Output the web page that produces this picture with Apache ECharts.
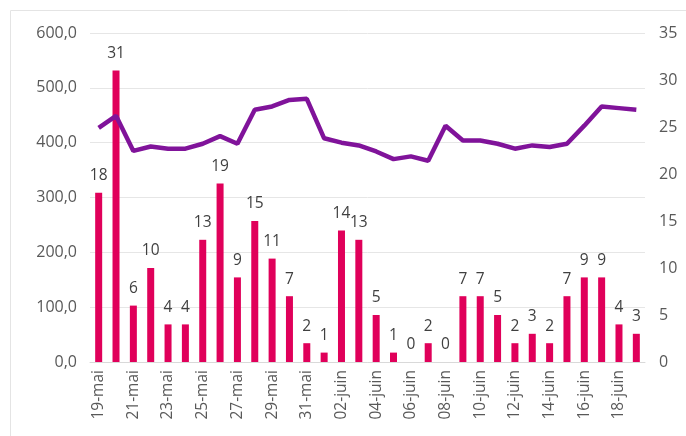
<!DOCTYPE html>
<html>
<head>
<meta charset="utf-8">
<script src="https://cdn.jsdelivr.net/npm/echarts@6/dist/echarts.min.js"></script>
<style>
  html, body { margin: 0; padding: 0; background: #fff; }
  #chart { width: 686px; height: 436px; }
</style>
</head>
<body>
<div id="chart"></div>
<script>
// categories: 19 May to 19 June
const days = [
    '19-mai', '20-mai', '21-mai', '22-mai', '23-mai', '24-mai', '25-mai', '26-mai',
    '27-mai', '28-mai', '29-mai', '30-mai', '31-mai', '01-juin', '02-juin', '03-juin',
    '04-juin', '05-juin', '06-juin', '07-juin', '08-juin', '09-juin', '10-juin', '11-juin',
    '12-juin', '13-juin', '14-juin', '15-juin', '16-juin', '17-juin', '18-juin', '19-juin'
];
// bars, right axis
const counts = [18, 31, 6, 10, 4, 4, 13, 19, 9, 15, 11, 7, 2, 1, 14, 13,
    5, 1, 0, 2, 0, 7, 7, 5, 2, 3, 2, 7, 9, 9, 4, 3];
// line, left axis
const amounts = [427, 449, 385, 393, 389, 389, 398, 412, 398, 460, 466, 478, 480, 408, 400, 395,
    384, 370, 375, 367, 431, 404, 404, 398, 389, 395, 392, 398, 431, 466, 463, 460];

const leftTicks = { min: 0, max: 600, interval: 100 };
const rightTicks = { min: 0, max: 35, interval: 5 };

const $chartDom = document.getElementById('chart');
const chart = echarts.init($chartDom);
const textColor = '#595959';
const fontFamily = '"Open Sans", "Noto Sans", sans-serif';

chart.setOption({
    animation: false,
    textStyle: { fontFamily: fontFamily },
    graphic: [{
        type: 'rect',
        shape: { x: 10.5, y: 10.5, width: 700, height: 440 },
        style: { fill: 'none', stroke: '#e4e4e4', lineWidth: 1 },
        silent: true
    }],
    grid: { left: 90, right: 41, top: 33, bottom: 74 },
    xAxis: {
        type: 'category',
        data: days,
        boundaryGap: true,
        axisLine: { show: true, lineStyle: { color: '#d9d9d9' } },
        axisTick: { show: false },
        axisLabel: {
            interval: 1,
            rotate: 90,
            color: textColor,
            fontSize: 15.5,
            margin: 8
        }
    },
    yAxis: [{
        type: 'value',
        min: leftTicks.min,
        max: leftTicks.max,
        interval: leftTicks.interval,
        axisLine: { show: false },
        axisTick: { show: false },
        splitLine: { lineStyle: { color: '#e6e6e6' } },
        axisLabel: {
            color: textColor,
            fontSize: 16,
            margin: 13,
            formatter: v => v.toFixed(1).replace('.', ',')
        }
    }, {
        type: 'value',
        min: rightTicks.min,
        max: rightTicks.max,
        interval: rightTicks.interval,
        axisLine: { show: false },
        axisTick: { show: false },
        splitLine: { show: false },
        axisLabel: { color: textColor, fontSize: 16, margin: 14 }
    }],
    series: [{
        name: 'Nombre',
        type: 'bar',
        yAxisIndex: 1,
        data: counts,
        barWidth: 7,
        itemStyle: { color: '#e0005a' },
        label: {
            show: true,
            position: 'top',
            distance: 9,
            color: '#404040',
            fontSize: 15.5
        },
        z: 2
    }, {
        name: 'Montant',
        type: 'line',
        yAxisIndex: 0,
        data: amounts,
        symbol: 'none',
        lineStyle: { color: '#80139a', width: 4.5 },
        z: 3
    }]
});
window.addEventListener('resize', () => chart.resize());
</script>
</body>
</html>
